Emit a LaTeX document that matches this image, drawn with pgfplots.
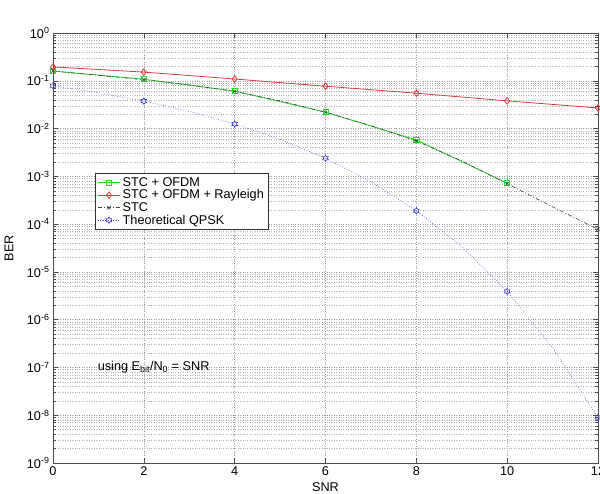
\documentclass[border=0pt]{standalone}
\usepackage{fontspec}
\setmainfont{Liberation Sans}
\usepackage{pgfplots}
\pgfplotsset{compat=1.18}
\usetikzlibrary{plotmarks}
\pgfdeclareplotmark{hexa}{%
  \pgfpathmoveto{\pgfqpointpolar{90}{\pgfplotmarksize}}%
  \pgfpathlineto{\pgfqpointpolar{120}{0.577\pgfplotmarksize}}%
  \pgfpathlineto{\pgfqpointpolar{150}{\pgfplotmarksize}}%
  \pgfpathlineto{\pgfqpointpolar{180}{0.577\pgfplotmarksize}}%
  \pgfpathlineto{\pgfqpointpolar{210}{\pgfplotmarksize}}%
  \pgfpathlineto{\pgfqpointpolar{240}{0.577\pgfplotmarksize}}%
  \pgfpathlineto{\pgfqpointpolar{270}{\pgfplotmarksize}}%
  \pgfpathlineto{\pgfqpointpolar{300}{0.577\pgfplotmarksize}}%
  \pgfpathlineto{\pgfqpointpolar{330}{\pgfplotmarksize}}%
  \pgfpathlineto{\pgfqpointpolar{0}{0.577\pgfplotmarksize}}%
  \pgfpathlineto{\pgfqpointpolar{30}{\pgfplotmarksize}}%
  \pgfpathlineto{\pgfqpointpolar{60}{0.577\pgfplotmarksize}}%
  \pgfpathclose\pgfusepathqstroke}
\definecolor{mgreen}{RGB}{40,215,40}
\definecolor{mred}{RGB}{215,60,60}
\definecolor{mblue}{RGB}{60,60,200}
\newcommand{\fs}{\fontsize{12.7}{14.5}\selectfont}
\begin{document}
\begin{tikzpicture}
\path[use as bounding box] (-53pt,-30pt) rectangle (547pt,463pt);
\begin{axis}[
  at={(0pt,0pt)}, anchor=south west,
  width=545pt, height=430pt, scale only axis,
  xmin=0, xmax=12, ymin=1e-9, ymax=1,
  ymode=log, log basis y=10,
  xtick={0,2,4,6,8,10,12},
  ytick={1e-9,1e-8,1e-7,1e-6,1e-5,1e-4,1e-3,1e-2,1e-1,1},
  minor ytick={2e-9,3e-9,4e-9,5e-9,6e-9,7e-9,8e-9,9e-9,
    2e-8,3e-8,4e-8,5e-8,6e-8,7e-8,8e-8,9e-8,
    2e-7,3e-7,4e-7,5e-7,6e-7,7e-7,8e-7,9e-7,
    2e-6,3e-6,4e-6,5e-6,6e-6,7e-6,8e-6,9e-6,
    2e-5,3e-5,4e-5,5e-5,6e-5,7e-5,8e-5,9e-5,
    2e-4,3e-4,4e-4,5e-4,6e-4,7e-4,8e-4,9e-4,
    2e-3,3e-3,4e-3,5e-3,6e-3,7e-3,8e-3,9e-3,
    2e-2,3e-2,4e-2,5e-2,6e-2,7e-2,8e-2,9e-2,
    0.2,0.3,0.4,0.5,0.6,0.7,0.8,0.9},
  yticklabel={10\textsuperscript{\pgfmathparse{int(round(\tick))}\pgfmathresult}},
  /pgf/number format/assume math mode=true,
  ticklabel style={font=\fs},
  tick align=inside, xtick pos=both, ytick pos=both,
  major tick length=5pt, minor tick length=3pt,
  xmajorgrids, ymajorgrids, yminorgrids,
  major grid style={dotted, gray!80},
  minor grid style={dotted, gray!60},
  axis line style={black!70},
  every tick/.style={black!70},
  xlabel={SNR}, ylabel={BER},
  label style={font=\fs},
  xlabel style={at={(axis description cs:0.5,0)}, anchor=north, yshift=-16pt},
  ylabel style={at={(axis description cs:0,0.5)}, anchor=south, yshift=36pt},
  legend style={at={(rel axis cs:0.077,0.674)}, anchor=north west,
    draw=black!80, fill=white, font=\fs,
    inner sep=2pt, row sep=-2pt},
  legend cell align=left,
  legend image code/.code={\draw[mark repeat=2,mark phase=2,#1] plot coordinates {(0cm,0cm)(0.4cm,0cm)(0.8cm,0cm)};},
  clip=true,
]
\addplot[mgreen, line width=0.8pt, mark=square, mark size=2.6pt, mark options={solid}]
  coordinates {(0,0.16)(2,0.108)(4,0.061)(6,0.022)(8,0.0058)(10,0.00072)};
\addlegendentry{STC + OFDM}
\addplot[mred, line width=0.8pt, mark=diamond, mark size=3.3pt, mark options={solid}]
  coordinates {(0,0.195)(2,0.152)(4,0.109)(6,0.077)(8,0.055)(10,0.038)(12,0.027)};
\addlegendentry{STC + OFDM + Rayleigh}
\addplot[black!75, line width=0.6pt, dash pattern=on 4pt off 2pt on 1pt off 2pt, mark=x, mark size=2.4pt, mark repeat=2, mark options={solid}]
  coordinates {(0,0.16)(1,0.13)(2,0.105)(3,0.082)(4,0.06)(5,0.038)(6,0.022)(7,0.0115)(8,0.0055)(9,0.0021)(10,0.0007)(11,0.00023)(12,0.000078)};
\addlegendentry{STC}
\addplot[mblue, line width=0.6pt, dotted, mark=hexa, mark size=3.2pt, mark repeat=2, mark options={solid}]
  coordinates {(0,0.0786)(1,0.0563)(2,0.0375)(3,0.0229)(4,0.0125)(5,0.00595)(6,0.00239)(7,0.00077)(8,0.000191)(9,0.000034)(10,0.0000039)(11,0.00000026)(12,0.000000009)};
\addlegendentry{Theoretical QPSK}
\node[font=\fs, anchor=center] at (rel axis cs:0.422,1.030) {QPSK STC OFDM 2 Tx \& 2 Rx Antennas, (SampleRate 8, Bits 65536)};
\node[font=\fs, anchor=west, inner sep=1pt] at (rel axis cs:0.080,0.223) {using E\textsubscript{bit}/N\textsubscript{0} = SNR};
\end{axis}
\end{tikzpicture}
\end{document}
